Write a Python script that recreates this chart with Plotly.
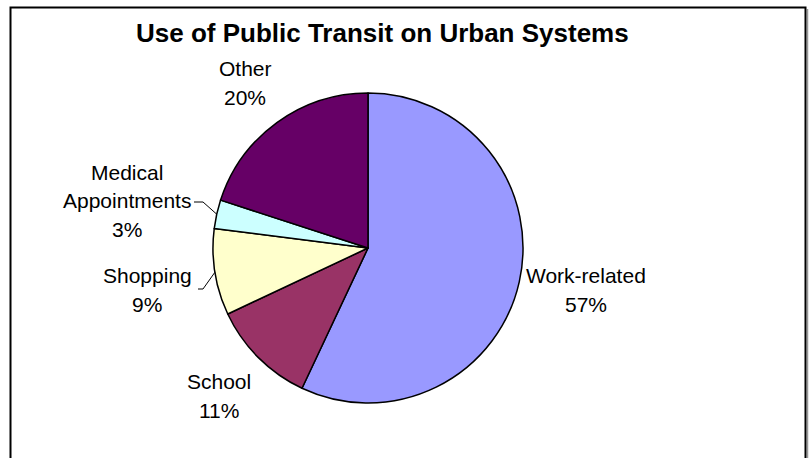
import math
import plotly.graph_objects as go

# Trip purposes and their share of urban transit use (%)
categories = ["Work-related", "School", "Shopping", "Medical Appointments", "Other"]
shares = [57, 11, 9, 3, 20]
slice_colors = ["#9999FF", "#993366", "#FFFFCC", "#CCFFFF", "#660066"]

W, H = 812, 458
CX, CY, R = 368, 248, 155          # pie centre and radius in pixels
FONT = "Arial, Liberation Sans, sans-serif"
LINE_GAP = 29                      # spacing between label lines, px

# label block centres (px) and how each name wraps
label_pos = {"Work-related": (586, 290), "School": (219, 396),
             "Shopping": (147, 290), "Medical Appointments": (127, 201),
             "Other": (245, 83)}
label_lines = {"Medical Appointments": ["Medical", "Appointments"]}
# leader lines: (knee x, knee y, end x)
leader = {"Shopping": (203, 289, 198), "Medical Appointments": (203, 202, 194)}


def px(x):
    return x / W


def py(y):
    return (H - y) / H


fig = go.Figure(go.Pie(
    labels=categories,
    values=shares,
    sort=False,
    direction="clockwise",
    rotation=0,
    marker=dict(colors=slice_colors, line=dict(color="black", width=1.5)),
    textinfo="none",
    hoverinfo="label+percent",
    showlegend=False,
    domain=dict(x=[px(CX - R), px(CX + R)], y=[py(CY + R), py(CY - R)]),
))

total = sum(shares)
start = 0.0
annotations = []
shapes = []
for cat, val in zip(categories, shares):
    span = 360.0 * val / total
    mid = math.radians(start + span / 2)
    start += span
    pct = round(100.0 * val / total)
    lines = label_lines.get(cat, [cat]) + [f"{pct}%"]
    bx, by = label_pos[cat]
    top = by - LINE_GAP * (len(lines) - 1) / 2
    for i, line in enumerate(lines):
        annotations.append(dict(
            x=px(bx), y=py(top + i * LINE_GAP), xref="paper", yref="paper",
            text=line, showarrow=False, xanchor="center", yanchor="middle",
            font=dict(family=FONT, size=21, color="black"),
        ))
    if cat in leader:
        ex = CX + R * math.sin(mid)
        ey = CY - R * math.cos(mid)
        kx, ky, tx = leader[cat]
        shapes.append(dict(
            type="path", xref="paper", yref="paper",
            path=f"M {px(ex)} {py(ey)} L {px(kx)} {py(ky)} L {px(tx)} {py(ky)}",
            line=dict(color="black", width=1),
        ))

annotations.append(dict(
    x=px(382), y=py(33), xref="paper", yref="paper",
    text="<b>Use of Public Transit on Urban Systems</b>",
    showarrow=False, xanchor="center", yanchor="middle",
    font=dict(family=FONT, size=26, color="black"),
))

# chart-area frame with a light shadow on the right
shapes.append(dict(type="line", xref="paper", yref="paper",
                   x0=px(807.5), x1=px(807.5), y0=py(9), y1=py(470),
                   line=dict(color="#999999", width=1.5)))
shapes.append(dict(type="rect", xref="paper", yref="paper",
                   x0=px(10.5), x1=px(805.5), y0=py(470), y1=py(7.5),
                   line=dict(color="black", width=2)))

fig.update_layout(
    width=W, height=H,
    margin=dict(l=0, r=0, t=0, b=0),
    paper_bgcolor="white", plot_bgcolor="white",
    annotations=annotations, shapes=shapes,
)

fig.write_html("out.html")
